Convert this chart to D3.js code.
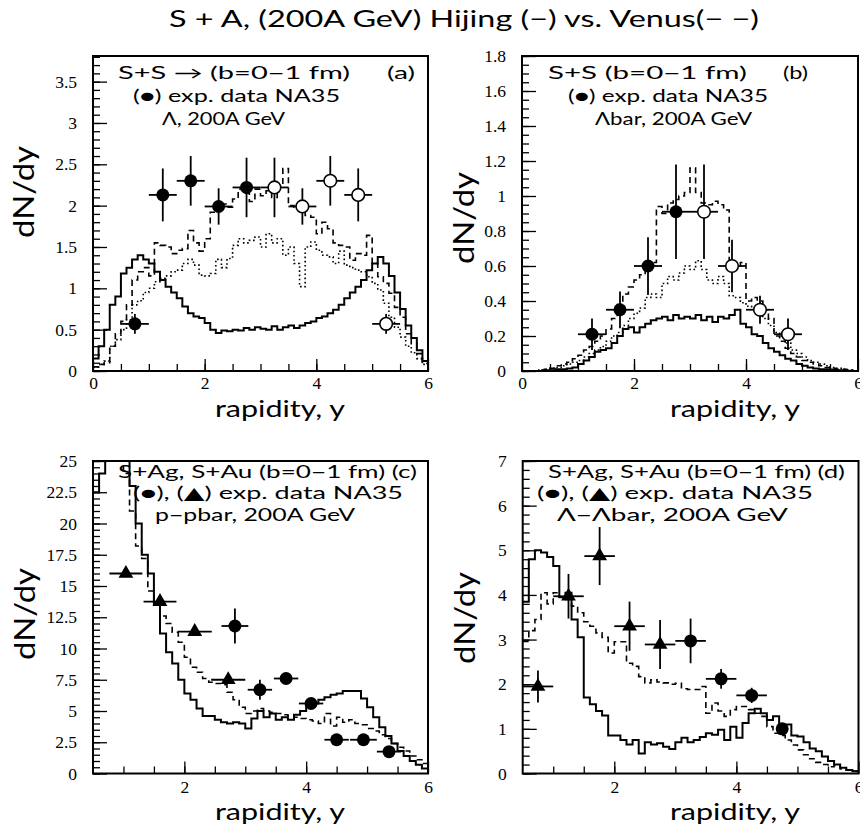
<!DOCTYPE html>
<html><head><meta charset="utf-8">
<script src="https://cdn.jsdelivr.net/npm/d3@7"></script>
<style>body{margin:0;background:#fff}</style>
</head><body>
<svg id="chart" width="860" height="836"></svg>
<script>
// ---------------- DATA ----------------
const binWidth = 0.1;
const binStartTop = 0.0;     // panels (a),(b)
const binStartBottom = 0.5;  // panels (c),(d)

// (a) S+S Lambda
const histA_hijing = [0.15,0.30,0.50,0.80,0.90,1.18,1.25,1.35,1.40,1.35,
 1.30,1.20,1.10,1.02,0.95,0.88,0.78,0.70,0.66,0.64,
 0.58,0.50,0.46,0.49,0.48,0.50,0.49,0.52,0.50,0.53,
 0.51,0.50,0.54,0.50,0.53,0.55,0.52,0.55,0.58,0.60,
 0.64,0.66,0.70,0.74,0.80,0.88,0.95,1.02,1.10,1.22,
 1.30,1.38,1.30,1.15,0.95,0.75,0.55,0.40,0.25,0.12];
const histA_venus = [0.05,0.08,0.10,0.30,0.45,0.60,0.80,1.10,1.20,1.25,
 1.15,1.55,1.52,1.50,1.42,1.46,1.48,1.70,1.55,1.45,
 1.60,1.92,1.98,2.02,1.98,2.08,2.20,2.15,2.05,2.20,
 2.12,2.18,2.10,2.25,2.45,2.00,1.98,1.95,1.88,1.86,
 1.66,1.80,1.72,1.55,1.52,1.50,1.34,1.42,1.40,1.64,
 1.30,1.14,1.06,0.94,0.77,0.65,0.45,0.33,0.21,0.09];
const histA_venus2 = [0.05,0.08,0.12,0.30,0.38,0.50,0.62,0.80,0.85,0.95,
 1.00,1.08,1.12,1.15,1.20,1.22,1.30,1.35,1.28,1.16,
 1.15,1.18,1.35,1.25,1.36,1.52,1.60,1.55,1.58,1.62,
 1.50,1.66,1.55,1.60,1.40,1.50,1.30,1.02,1.50,1.56,
 1.46,1.40,1.38,1.30,1.45,1.28,1.25,1.22,1.20,1.14,
 1.06,0.98,0.82,0.65,0.53,0.41,0.30,0.22,0.15,0.08];
// [y, dN/dy, yErr, xErr]
const expA_filled = [[0.75,0.57,0.12,0.25],[1.25,2.13,0.32,0.25],[1.75,2.30,0.30,0.25],[2.25,1.99,0.22,0.25],[2.75,2.22,0.36,0.25]];
const expA_open = [[3.25,2.22,0.36,0.25],[3.75,1.99,0.22,0.25],[4.25,2.30,0.30,0.25],[4.75,2.13,0.32,0.25],[5.25,0.57,0.12,0.25]];

// (b) S+S anti-Lambda
const histB_hijing = [0,0,0,0,0.005,0.005,0.01,0.01,0.015,0.02,
 0.04,0.06,0.08,0.11,0.12,0.13,0.16,0.20,0.24,0.25,
 0.22,0.25,0.27,0.29,0.30,0.31,0.29,0.32,0.30,0.31,
 0.30,0.32,0.29,0.31,0.28,0.31,0.30,0.32,0.35,0.27,
 0.25,0.21,0.20,0.16,0.13,0.11,0.09,0.07,0.06,0.04,
 0.03,0.02,0.015,0.01,0.01,0.008,0.005,0.005,0.002,0];
const histB_venus = [0,0,0,0.005,0.01,0.015,0.03,0.04,0.05,0.07,
 0.09,0.12,0.14,0.17,0.20,0.24,0.30,0.38,0.44,0.48,
 0.52,0.55,0.58,0.62,0.94,0.90,0.96,0.98,1.00,1.02,
 1.16,1.02,0.96,0.95,0.97,0.95,0.92,0.60,0.60,0.62,
 0.40,0.42,0.40,0.35,0.30,0.20,0.17,0.13,0.10,0.08,
 0.06,0.05,0.04,0.03,0.02,0.015,0.01,0.01,0.005,0];
const histB_venus2 = [0,0,0,0.005,0.01,0.015,0.02,0.03,0.04,0.05,
 0.06,0.08,0.10,0.12,0.14,0.17,0.20,0.22,0.26,0.30,
 0.33,0.36,0.42,0.44,0.42,0.50,0.54,0.52,0.56,0.60,
 0.58,0.63,0.58,0.52,0.50,0.54,0.50,0.43,0.42,0.39,
 0.37,0.36,0.34,0.30,0.26,0.22,0.20,0.16,0.12,0.10,
 0.08,0.06,0.05,0.04,0.03,0.02,0.015,0.01,0.005,0];
const expB_filled = [[1.25,0.21,0.09,0.25],[1.75,0.35,0.105,0.25],[2.25,0.60,0.165,0.25],[2.75,0.91,0.27,0.25]];
const expB_open = [[3.25,0.91,0.27,0.25],[3.75,0.60,0.15,0.25],[4.25,0.35,0.08,0.25],[4.75,0.21,0.09,0.25]];

// (c) S+Ag, S+Au  p - pbar
const histC_hijing = [22.5,24.0,27,27,27,27,23.0,20.0,17.5,16.0,
 13.5,11.2,9.7,8.8,7.5,6.4,5.9,5.2,4.6,4.6,
 4.3,4.1,4.0,4.1,4.0,3.6,4.4,5.0,4.5,4.8,
 4.3,4.5,4.3,4.7,5.0,5.35,5.6,5.9,6.1,6.3,
 6.4,6.6,6.6,6.6,6.0,5.3,4.5,3.7,3.0,2.4,
 1.8,1.4,1.0,0.7,0.4];
const histC_venus = [27,27,27,27,26,24,21,18.2,17.2,14.6,
 13.6,12.6,12.0,11.3,10.5,9.3,8.5,8.1,7.6,7.3,
 7.2,7.1,6.5,5.9,5.3,4.8,5.0,5.2,5.0,4.9,
 4.8,4.7,4.6,4.5,4.4,4.3,4.2,4.0,4.8,3.8,
 4.5,4.1,4.3,4.0,3.9,3.6,3.4,3.1,2.8,2.4,
 2.1,1.8,1.4,1.1,0.8];
const expC_tri = [[1.04,16.0,0,0.27],[1.60,13.75,0,0.27],[2.17,11.35,0,0.28],[2.72,7.5,0,0.28]];
const expC_circ = [[2.83,11.8,1.4,0.22],[3.24,6.7,0.8,0.2],[3.67,7.6,0.45,0.2],[4.08,5.6,0.3,0.2],[4.50,2.7,0.2,0.2],[4.94,2.7,0.2,0.22],[5.36,1.75,0.25,0.2]];

// (d) S+Ag, S+Au  Lambda - anti-Lambda
const histD_hijing = [3.85,4.8,5.0,4.95,4.85,4.65,3.95,4.05,3.45,3.05,
 1.7,1.55,1.4,1.3,0.85,0.85,0.75,0.65,0.75,0.45,
 0.7,0.65,0.68,0.6,0.55,0.7,0.8,0.7,0.75,0.82,
 0.9,0.87,0.98,0.75,1.05,0.8,1.13,1.35,1.45,1.35,
 1.2,1.28,0.95,1.1,0.85,0.83,0.7,0.56,0.5,0.38,
 0.28,0.2,0.13,0.08,0.05];
const histD_venus = [2.96,3.2,3.45,4.05,3.8,4.05,3.95,3.9,3.75,3.6,
 3.4,3.3,3.15,3.05,2.7,2.95,2.95,2.47,2.4,2.17,
 2.03,2.1,2.05,2.03,2.0,2.02,1.9,1.88,1.88,1.95,
 1.35,1.58,1.4,1.28,1.43,1.5,1.5,1.43,1.35,1.28,
 1.05,0.9,0.85,0.75,0.64,0.53,0.42,0.33,0.25,0.2,
 0.15,0.18,0.1,0.08,0.05];
const expD_tri = [[0.75,1.95,0.36,0.25],[1.25,3.97,0.5,0.25],[1.76,4.87,0.65,0.25],[2.25,3.3,0.55,0.25],[2.75,2.89,0.55,0.25]];
const expD_circ = [[3.25,2.97,0.5,0.25],[3.75,2.12,0.22,0.25],[4.25,1.75,0.17,0.25],[4.75,1.0,0.08,0]];

// tick labels
const yTicksA = [0,0.5,1,1.5,2,2.5,3,3.5];
const yTicksB = [0,0.2,0.4,0.6,0.8,1,1.2,1.4,1.6,1.8];
const yTicksC = [0,2.5,5,7.5,10,12.5,15,17.5,20,22.5,25];
const yTicksD = [0,1,2,3,4,5,6,7];
const xTicksTop = [0,2,4,6];
const xTicksBottom = [2,4,6];

const titleText = "S + A, (200A GeV) Hijing (\u2212) vs. Venus(\u2212 \u2212)";
const yTitle = "dN/dy";
const xTitle = "rapidity, y";

// ---------------- DRAWING ----------------
const svg = d3.select("#chart");
const SANS = "Lato, 'DejaVu Sans', sans-serif";
const SERIF = "'Liberation Serif', 'Times New Roman', serif";

svg.append("text").attr("x",169).attr("y",27).attr("font-family",SANS).attr("font-size",24)
  .attr("textLength",590).attr("lengthAdjust","spacingAndGlyphs").text(titleText);

const panels = [
 {id:"a", x0:93, x1:428, y0:56, y1:371, xd:[0,6], yd:[0,3.81], yt:yTicksA, yMinor:0.1, xt:xTicksTop,
  hists:[[histA_hijing,"solid"],[histA_venus,"dash"],[histA_venus2,"dot"]], bs:binStartTop,
  exp:[[expA_filled,"fc"],[expA_open,"oc"]], lblPad:6, ytc:[24,192], xtx:215,
  texts:[["S+S \u2192 (b=0\u22121 fm)",118,79,232],["(a)",387,79,28],["(\u25CF) exp. data NA35",133,102,207],["\u039B, 200A GeV",162,125,123]]},
 {id:"b", x0:522, x1:858, y0:56, y1:371, xd:[0,6], yd:[0,1.8], yt:yTicksB, yMinor:0.05, xt:xTicksTop,
  hists:[[histB_hijing,"solid"],[histB_venus,"dash"],[histB_venus2,"dot"]], bs:binStartTop,
  exp:[[expB_filled,"fc"],[expB_open,"oc"]], lblPad:6, ytc:[464,218], xtx:670,
  texts:[["S+S (b=0\u22121 fm)",548,79,199],["(b)",783,79,25],["(\u25CF) exp. data NA35",568,102,200],["\u039Bbar, 200A GeV",595,125,157]]},
 {id:"c", x0:93, x1:428, y0:461, y1:773.5, xd:[0.5,6], yd:[0,25], yt:yTicksC, yMinor:0.5, xt:xTicksBottom,
  hists:[[histC_hijing,"solid"],[histC_venus,"dash"]], bs:binStartBottom,
  exp:[[expC_tri,"tri"],[expC_circ,"fc"]], lblPad:7, ytc:[25,614], xtx:215,
  texts:[["S+Ag, S+Au (b=0\u22121 fm) (c)",118,478,299],["(\u25CF), (\u25B2) exp. data NA35",133,499,270],["p\u2212pbar, 200A GeV",155,521,200]]},
 {id:"d", x0:522.7, x1:858.5, y0:461, y1:773.5, xd:[0.5,6], yd:[0,7], yt:yTicksD, yMinor:0.2, xt:xTicksBottom,
  hists:[[histD_hijing,"solid"],[histD_venus,"dash"]], bs:binStartBottom,
  exp:[[expD_tri,"tri"],[expD_circ,"fc"]], lblPad:7, ytc:[465,618], xtx:670,
  texts:[["S+Ag, S+Au (b=0\u22121 fm) (d)",548,478,297],["(\u25CF), (\u25B2) exp. data NA35",537,499,276],["\u039B\u2212\u039Bbar, 200A GeV",557,521,231]]}
];

const fmt = d3.format("~g");

panels.forEach(p => {
  const x = d3.scaleLinear().domain(p.xd).range([p.x0, p.x1]);
  const y = d3.scaleLinear().domain(p.yd).range([p.y1, p.y0]);
  const g = svg.append("g");

  const clipId = "clip-" + p.id;
  svg.append("clipPath").attr("id", clipId).append("rect")
    .attr("x", p.x0).attr("y", p.y0).attr("width", p.x1 - p.x0).attr("height", p.y1 - p.y0);

  // histograms
  const line = d3.line().x(d => x(d[0])).y(d => y(d[1])).curve(d3.curveStepAfter);
  p.hists.forEach(([vals, style]) => {
    const pts = vals.map((v, i) => [p.bs + i * binWidth, v]);
    pts.push([p.bs + vals.length * binWidth, vals[vals.length - 1]]);
    const path = g.append("path").attr("clip-path", `url(#${clipId})`)
      .attr("d", line(pts)).attr("fill", "none").attr("stroke", "#000");
    if (style === "solid") path.attr("stroke-width", 2);
    if (style === "dash") path.attr("stroke-width", 1.6).attr("stroke-dasharray", "6,4");
    if (style === "dot") path.attr("stroke-width", 1.6).attr("stroke-dasharray", "1.6,2.6");
  });

  // axes: major + minor ticks inside
  const yMinorVals = d3.range(0, Math.round(p.yd[1] / p.yMinor) + 1).map(i => +(i * p.yMinor).toFixed(3)).filter(v => v <= p.yd[1]);
  g.append("g").attr("transform", `translate(${p.x0},0)`)
    .call(d3.axisLeft(y).tickValues(yMinorVals).tickSizeInner(-7).tickSizeOuter(0).tickFormat(""))
    .call(s => s.select(".domain").remove()).selectAll("line").attr("stroke-width", 1.3);
  g.append("g").attr("transform", `translate(${p.x0},0)`)
    .call(d3.axisLeft(y).tickValues(p.yt).tickSizeInner(-14).tickSizeOuter(0).tickPadding(16).tickFormat(fmt))
    .call(s => s.select(".domain").remove())
    .call(s => s.selectAll("line").attr("stroke-width", 1.3))
    .call(s => s.selectAll("text").attr("font-family", SERIF).attr("font-size", 17.5).attr("fill", "#000"));

  const xMinorVals = d3.range(0, 13).map(i => i * 0.5).filter(v => v > p.xd[0] && v < p.xd[1]);
  g.append("g").attr("transform", `translate(0,${p.y1})`)
    .call(d3.axisBottom(x).tickValues(xMinorVals).tickSizeInner(-7).tickSizeOuter(0).tickFormat(""))
    .call(s => s.select(".domain").remove()).selectAll("line").attr("stroke-width", 1.3);
  g.append("g").attr("transform", `translate(0,${p.y1})`)
    .call(d3.axisBottom(x).tickValues(p.xt).tickSizeInner(-12).tickSizeOuter(0).tickPadding(p.lblPad).tickFormat(fmt))
    .call(s => s.select(".domain").remove())
    .call(s => s.selectAll("line").attr("stroke-width", 1.3))
    .call(s => s.selectAll("text").attr("font-family", SERIF).attr("font-size", 17.5).attr("fill", "#000"));

  // frame
  g.append("rect").attr("x", p.x0).attr("y", p.y0).attr("width", p.x1 - p.x0).attr("height", p.y1 - p.y0)
    .attr("fill", "none").attr("stroke", "#000").attr("stroke-width", 2);

  // experimental points
  p.exp.forEach(([pts, kind]) => {
    pts.forEach(([px, py, ey, ex]) => {
      if (ex > 0) g.append("line").attr("x1", x(px - ex)).attr("x2", x(px + ex)).attr("y1", y(py)).attr("y2", y(py))
        .attr("stroke", "#000").attr("stroke-width", 1.8);
      if (ey > 0) g.append("line").attr("x1", x(px)).attr("x2", x(px)).attr("y1", y(py - ey)).attr("y2", y(py + ey))
        .attr("stroke", "#000").attr("stroke-width", 1.8);
    });
    pts.forEach(([px, py]) => {
      if (kind === "fc") g.append("circle").attr("cx", x(px)).attr("cy", y(py)).attr("r", 6.5).attr("fill", "#000");
      if (kind === "oc") g.append("circle").attr("cx", x(px)).attr("cy", y(py)).attr("r", 6.3)
        .attr("fill", "#fff").attr("stroke", "#000").attr("stroke-width", 1.6);
      if (kind === "tri") g.append("path").attr("d", d3.symbol(d3.symbolTriangle, 95)())
        .attr("transform", `translate(${x(px)},${y(py)})`).attr("fill", "#000");
    });
  });

  // annotation text
  p.texts.forEach(([t, tx, ty, tl]) => {
    g.append("text").attr("x", tx).attr("y", ty).attr("font-family", SANS).attr("font-size", 17)
      .attr("textLength", tl).attr("lengthAdjust", "spacingAndGlyphs").text(t);
  });

  // axis titles
  g.append("text").attr("x", p.xtx)
    .attr("y", p.y1 + 46).attr("font-family", SANS).attr("font-size", 24)
    .attr("textLength", 130).attr("lengthAdjust", "spacingAndGlyphs").text(xTitle);
  g.append("text").attr("transform", `translate(${p.ytc[0]},${p.ytc[1]}) rotate(-90)`)
    .attr("text-anchor", "middle").attr("dy", "0.35em").attr("font-family", SANS).attr("font-size", 28)
    .attr("textLength", 92).attr("lengthAdjust", "spacingAndGlyphs").text(yTitle);
});
</script>
</body></html>
